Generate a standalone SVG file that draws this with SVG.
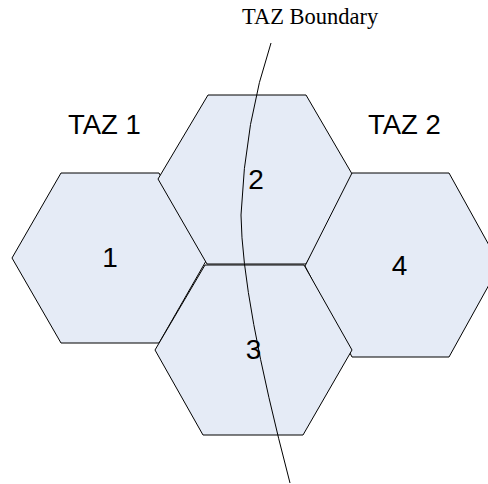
<svg xmlns="http://www.w3.org/2000/svg" width="488" height="484" viewBox="0 0 488 484">
<style>
.hex{fill:#e5ebf6;stroke:#000;stroke-width:1}
.num{font-family:"Liberation Sans",Arial,sans-serif;font-size:28px;fill:#000;text-anchor:middle}
.taz{font-family:"Liberation Sans",Arial,sans-serif;font-size:27.5px;fill:#000}
.bnd{font-family:"Liberation Serif","Times New Roman",serif;font-size:22.5px;fill:#000}
.line{fill:none;stroke:#000;stroke-width:1}
</style>
<rect width="488" height="484" fill="#fff"/>
<g id="hex1"><polygon class="hex" points="61,173 159,173 206,261 159,343 61,343 12,258"/><text class="num" x="110" y="267">1</text></g>
<g id="hex2"><polygon class="hex" points="208,95 306,95 355,179 306,264 207,264 158,179"/><text class="num" x="256" y="189">2</text></g>
<g id="hex4"><polygon class="hex" points="352,173 449,173 500,265 449,357 352,357 305,266"/><text class="num" x="399.5" y="275">4</text></g>
<g id="hex3"><polygon class="hex" points="205,265 304,265 352,350 303,435 203,435 155,350"/><text class="num" x="253.5" y="359">3</text></g>
<g id="labels">
<text class="taz" x="68" y="134">TAZ 1</text>
<text class="taz" x="368" y="134">TAZ 2</text>
<text class="bnd" x="242" y="24">TAZ Boundary</text>
</g>
<g id="connectors">
<path class="line" d="M271,43 Q245,120 241,215 Q242,300 290,483"/>
</g>
</svg>
